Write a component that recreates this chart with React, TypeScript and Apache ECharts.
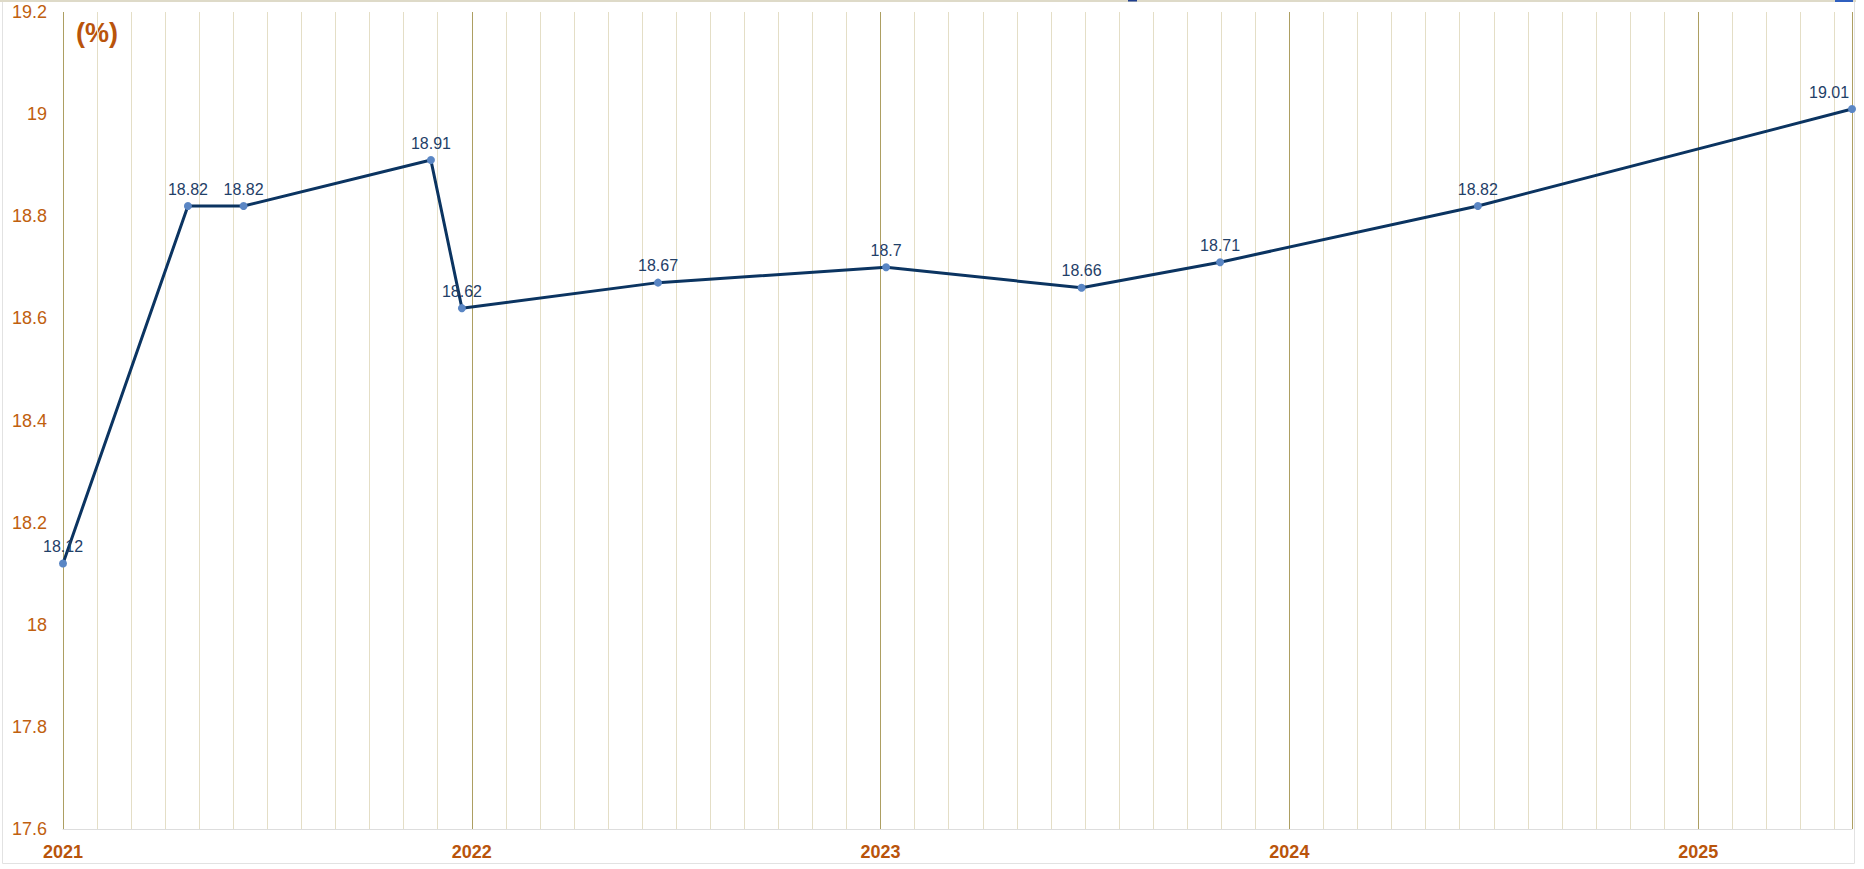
import React, { useEffect, useRef } from "react";
import * as echarts from "echarts";

const dates = [
  "2021-01-01",
  "2021-04-21",
  "2021-06-10",
  "2021-11-25",
  "2021-12-23",
  "2022-06-15",
  "2023-01-06",
  "2023-06-28",
  "2023-10-31",
  "2024-06-17",
  "2025-05-17",
];
const values = [18.12, 18.82, 18.82, 18.91, 18.62, 18.67, 18.7, 18.66, 18.71, 18.82, 19.01];
const startYear = 2021;
const yearLabels = ["2021", "2022", "2023", "2024", "2025"];
const yMin = 17.6;
const yMax = 19.2;
const yStep = 0.2;
const unitLabel = "(%)";

function monthIndex(d: string): number {
  const [y, m, day] = d.split("-").map(Number);
  const dim = new Date(y, m, 0).getDate();
  return (y - startYear) * 12 + (m - 1) + (day - 1) / dim;
}

export default function App() {
  const ref = useRef<HTMLDivElement>(null);
  useEffect(() => {
    if (!ref.current) return;
    const chart = echarts.init(ref.current, undefined, { renderer: "svg" });
    const xs = dates.map(monthIndex);
    const xMax = xs[xs.length - 1];
    const data = values.map((v, i) => {
      const item: any = { value: [xs[i], v] };
      if (i === values.length - 1) item.label = { offset: [-23, 0] };
      return item;
    });
    chart.setOption({
      animation: false,
      backgroundColor: "#ffffff",
      grid: { left: 63, right: 12, top: 12, bottom: 40, containLabel: false },
      xAxis: [
        {
          type: "value",
          min: 0,
          max: xMax,
          interval: 1,
          axisLine: { show: true, lineStyle: { color: "#dddddd", width: 1 } },
          axisTick: { show: false },
          splitLine: { show: true, lineStyle: { color: "#e4dec6", width: 1 } },
          axisLabel: { show: false },
          z: 0,
        },
        {
          type: "value",
          position: "bottom",
          min: 0,
          max: xMax,
          interval: 12,
          axisLine: { show: false },
          axisTick: { show: false },
          splitLine: { show: true, lineStyle: { color: "#ad9f62", width: 1 } },
          axisLabel: {
            show: true,
            margin: 14,
            color: "#b9540b",
            fontFamily: "Liberation Sans, Arial, sans-serif",
            fontWeight: "bold",
            fontSize: 18,
            showMaxLabel: false,
            formatter: (v: number) => {
              const r = Math.round(v);
              if (Math.abs(v - r) > 1e-6 || r % 12 !== 0) return "";
              return yearLabels[r / 12] ?? "";
            },
          },
          z: 1,
        },
      ],
      yAxis: {
        type: "value",
        min: yMin,
        max: yMax,
        interval: yStep,
        axisLine: { show: false },
        axisTick: { show: false },
        splitLine: { show: false },
        axisLabel: {
          margin: 16,
          color: "#c0600f",
          fontFamily: "Liberation Sans, Arial, sans-serif",
          fontSize: 18,
          formatter: (v: number) => String(parseFloat(v.toFixed(1))),
        },
      },
      graphic: [
        {
          type: "rect",
          shape: { x: 2.5, y: 1.5, width: 1852, height: 862 },
          style: { fill: "none", stroke: "#e2e2e2", lineWidth: 1 },
          silent: true,
          z: -1,
        },
        {
          type: "rect",
          shape: { x: 0, y: 0, width: 1856, height: 2 },
          style: { fill: "#dedac8" },
          silent: true,
        },
        {
          type: "rect",
          shape: { x: 1128, y: 0, width: 9, height: 1.5 },
          style: { fill: "#1f3f8f" },
          silent: true,
        },
        {
          type: "rect",
          shape: { x: 1835, y: 0, width: 18, height: 2 },
          style: { fill: "#2f5fbf" },
          silent: true,
        },
        {
          type: "text",
          x: 76,
          y: 19,
          style: {
            text: unitLabel,
            fill: "#b9540b",
            font: "bold 27px 'Liberation Sans', Arial, sans-serif",
          },
          silent: true,
        },
      ],
      series: [
        {
          type: "line",
          xAxisIndex: 0,
          data,
          symbol: "circle",
          symbolSize: 8,
          itemStyle: { color: "#5a86c4" },
          lineStyle: { color: "#0b3461", width: 3 },
          z: 5,
          label: {
            show: true,
            position: "top",
            distance: 5,
            color: "#1f4068",
            fontFamily: "Liberation Sans, Arial, sans-serif",
            fontSize: 16,
            formatter: (p: any) => String(p.value[1]),
          },
        },
      ],
    });
    return () => chart.dispose();
  }, []);
  return (
    <div
      ref={ref}
      style={{ position: "fixed", left: 0, top: 0, width: 1864, height: 869 }}
    />
  );
}
